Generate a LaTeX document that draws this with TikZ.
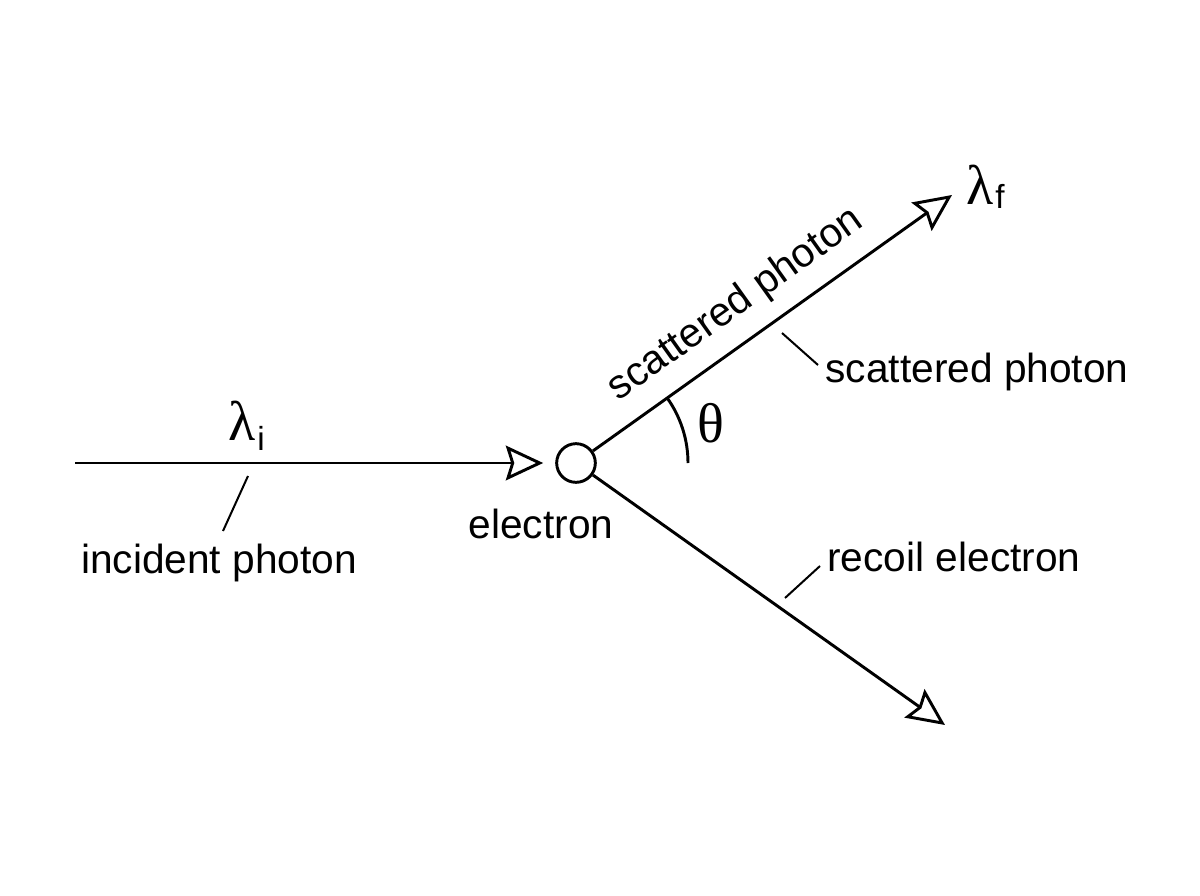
\documentclass[tikz,border=0pt]{standalone}
\usepackage{fontspec}
\setmainfont{Liberation Sans}
\newfontfamily\grk{Liberation Serif}
\usetikzlibrary{arrows.meta}
\begin{document}
\begin{tikzpicture}[x=0.75pt,y=0.75pt,
  ray/.style={line width=2.2pt, -{Stealth[open, length=28pt, width=26pt, inset=4pt]}},
  lead/.style={line width=1.5pt},
  lbl/.style={font=\fontsize{30.5}{36}\selectfont, inner sep=0pt},
  grklbl/.style={font=\grk\fontsize{42}{46}\selectfont, inner sep=0pt},
  sub/.style={font=\fontsize{25}{28}\selectfont, inner sep=0pt}]
\useasboundingbox[fill=white] (0,0) rectangle (1200,-896);
\node[circle, draw, line width=2.2pt, minimum size=29pt, inner sep=0pt] (e) at (576,-463) {};
\coordinate (start) at (75,-463);
\coordinate (sf) at (952,-195);
\coordinate (rf) at (945,-725);
\draw[ray, shorten >=9pt] (start) -- (e.west);
\draw[ray] (e) -- (sf);
\draw[ray] (e) -- (rf);
\draw[line width=2.2pt] (e.center) ++(0:112) arc[start angle=0, end angle=35.5, radius=112];
% labels
\node[grklbl, anchor=base east] (li) at (256,-440) {λ};
\node[sub, anchor=base west] (lis) at (257,-450) {i};
\node[grklbl, anchor=base east] (lf) at (994,-204) {λ};
\node[sub, anchor=base west] (lfs) at (995,-208) {f};
\node[grklbl] (th) at (711,-423) {θ};
\node[lbl] (inc) at (219,-563) {incident photon};
\node[lbl] (el) at (541,-524) {electron};
\node[lbl, rotate=35.5] (st) at (736,-305) {scattered photon};
\node[lbl] (sp) at (977,-372) {scattered photon};
\node[lbl] (re) at (954,-557) {recoil electron};
% leaders
\coordinate (a1) at (248,-476); \coordinate (a2) at (223,-531);
\coordinate (b1) at (782,-333); \coordinate (b2) at (818,-365);
\coordinate (c1) at (785,-598); \coordinate (c2) at (820,-566);
\draw[lead] (a1) -- (a2);
\draw[lead] (b1) -- (b2);
\draw[lead] (c1) -- (c2);
\end{tikzpicture}
\end{document}
